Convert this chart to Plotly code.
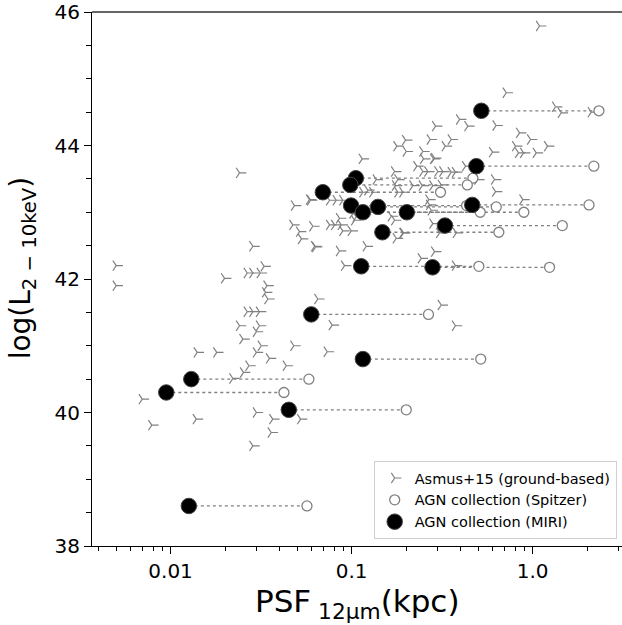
import plotly.graph_objects as go

# ---- Asmus+15 (ground-based) ----
asmus_x = [0.00501, 0.00501, 0.00698, 0.00788, 0.01387, 0.01404, 0.0180, 0.01988, 0.0221, 0.02405,
           0.02405, 0.0251, 0.0253, 0.02653, 0.0285, 0.0313, 0.0329, 0.0285, 0.0341, 0.0335,
           0.0345, 0.02653, 0.0285, 0.0310, 0.0310, 0.0298, 0.0317, 0.0298, 0.0352, 0.0271,
           0.0436, 0.0298, 0.0367, 0.0360, 0.0285, 0.0523, 0.0480, 0.0734, 0.0651, 0.0782,
           0.313, 0.375, 0.0484, 0.0586, 0.0594, 0.0474, 0.0516, 0.0529, 0.0611, 0.0625,
           0.0633, 0.0756, 0.0823, 0.0895, 0.0756, 0.0806, 0.0877, 0.0858, 0.0895, 0.0996,
           0.0858, 0.0915, 0.1206, 0.1146, 0.1039, 0.1017, 0.1657, 0.1729, 0.1766, 0.1938,
           0.2427, 0.2875, 0.2813, 0.2912, 0.178, 0.1988, 0.2005, 0.2722, 0.3293, 0.3555,
           0.2477, 0.25, 0.2838, 0.2875, 0.2295, 0.1729, 0.2477, 0.2639, 0.2998, 0.3195,
           0.375, 0.1369, 0.1803, 0.175, 0.2182, 0.2458, 0.2813, 0.313, 0.1155, 0.1311,
           0.1803, 0.1921, 0.2673, 0.2697, 0.2756, 0.1921, 0.3064, 0.3788, 0.375, 1.093,
           0.7155, 1.340, 1.441, 2.110, 0.3952, 0.4390, 0.6286, 0.8476, 0.975, 1.210,
           0.8056, 0.8368, 0.8919, 1.048, 0.6013, 0.4264, 0.6166, 0.4986, 0.6247, 0.884,
           0.1230, 0.1062, 0.3555]
asmus_y = [42.20, 41.90, 40.20, 39.81, 39.90, 40.90, 40.90, 42.01, 40.51, 43.59,
           41.30, 41.10, 40.60, 42.09, 42.09, 42.09, 42.19, 42.49, 41.90, 41.80,
           41.70, 41.51, 41.51, 41.51, 41.30, 41.21, 41.00, 40.90, 40.81, 40.70,
           40.70, 40.00, 39.90, 39.70, 39.50, 39.90, 41.00, 40.91, 41.70, 41.31,
           41.61, 41.30, 43.10, 43.19, 43.18, 42.81, 42.71, 42.60, 42.79, 42.49,
           42.48, 43.18, 43.18, 43.18, 42.81, 42.81, 42.81, 42.91, 42.72, 42.72,
           42.42, 42.20, 42.49, 43.80, 42.88, 42.98, 42.94, 42.88, 42.61, 42.69,
           42.31, 42.41, 42.83, 44.29, 43.99, 44.08, 43.91, 44.09, 43.99, 44.09,
           43.91, 43.80, 43.80, 43.81, 43.69, 43.61, 43.61, 43.61, 43.61, 43.61,
           43.60, 43.49, 43.49, 43.40, 43.40, 43.40, 43.40, 43.41, 43.30, 43.30,
           43.30, 43.30, 43.19, 43.11, 43.03, 42.69, 42.69, 42.69, 42.20, 45.79,
           44.79, 44.58, 44.49, 44.50, 44.39, 44.29, 44.30, 44.19, 44.09, 43.99,
           43.99, 43.89, 43.89, 43.89, 43.90, 43.69, 43.49, 43.49, 43.31, 43.19,
           43.33, 42.93, 43.60]

# ---- AGN collection: MIRI and Spitzer (paired, same luminosity) ----
miri_x = [0.521, 0.489, 0.1056, 0.0984, 0.0694, 0.0994, 0.140, 0.464, 0.1155, 0.202,
          0.148, 0.328, 0.113, 0.280, 0.0599, 0.1155, 0.01302, 0.00947, 0.0450, 0.01262]
spitzer_x = [2.325, 2.18, 0.468, 0.436, 0.310, 0.432, 0.630, 2.05, 0.514, 0.895,
             0.651, 1.459, 0.505, 1.241, 0.266, 0.517, 0.0581, 0.0423, 0.2005, 0.0567]
agn_y = [44.52, 43.69, 43.51, 43.41, 43.30, 43.10, 43.08, 43.11, 43.00, 43.00,
         42.70, 42.80, 42.19, 42.175, 41.47, 40.80, 40.50, 40.30, 40.04, 38.60]

x_tickvals = [0.01, 0.1, 1.0]
x_ticktext = ["0.01", "0.1", "1.0"]
x_minor = [0.004, 0.005, 0.006, 0.007, 0.008, 0.009,
           0.02, 0.03, 0.04, 0.05, 0.06, 0.07, 0.08, 0.09,
           0.2, 0.3, 0.4, 0.5, 0.6, 0.7, 0.8, 0.9, 2, 3]
y_tickvals = [38, 40, 42, 44, 46]

GRAY = "#808080"
FONT = "DejaVu Sans"

fig = go.Figure()

# dotted connectors
lx, ly = [], []
for a, b, y in zip(miri_x, spitzer_x, agn_y):
    lx += [a, b, None]
    ly += [y, y, None]
fig.add_trace(go.Scatter(x=lx, y=ly, mode="lines", showlegend=False, hoverinfo="skip",
                         line=dict(color=GRAY, width=1.3, dash="dot")))

fig.add_trace(go.Scatter(x=asmus_x, y=asmus_y, mode="markers", name="Asmus+15 (ground-based)",
                         marker=dict(symbol="y-right", size=8.5, color=GRAY,
                                     line=dict(color=GRAY, width=1.2))))
fig.add_trace(go.Scatter(x=spitzer_x, y=agn_y, mode="markers", name="AGN collection (Spitzer)",
                         marker=dict(symbol="circle", size=10, color="white",
                                     line=dict(color=GRAY, width=1.3))))
fig.add_trace(go.Scatter(x=miri_x, y=agn_y, mode="markers", name="AGN collection (MIRI)",
                         marker=dict(symbol="circle", size=15.5, color="black",
                                     line=dict(color="#444444", width=1))))

fig.update_layout(
    width=622, height=625,
    margin=dict(l=92, r=0, t=12, b=79, autoexpand=False),
    paper_bgcolor="white", plot_bgcolor="white",
    font=dict(family=FONT, color="black"),
    showlegend=True,
    legend=dict(x=0.99, y=0.013, xanchor="right", yanchor="bottom",
                bgcolor="white", bordercolor="#d0d0d0", borderwidth=1,
                font=dict(size=14.5, family=FONT), tracegroupgap=0),
    xaxis=dict(type="log", range=[-2.434, 0.494], automargin=False,
               tickvals=x_tickvals, ticktext=x_ticktext,
               ticks="outside", ticklen=7, tickwidth=1.2, tickcolor="black",
               tickfont=dict(size=20, family=FONT),
               minor=dict(tickvals=x_minor, ticks="outside", ticklen=4, tickwidth=1, tickcolor="black"),
               showline=True, linecolor="black", linewidth=1.2, mirror=False,
               showgrid=False, zeroline=False),
    yaxis=dict(range=[38, 46], tickvals=y_tickvals, automargin=False,
               ticks="outside", ticklen=7, tickwidth=1.2, tickcolor="black",
               tickfont=dict(size=20, family=FONT),
               minor=dict(dtick=0.5, ticks="outside", ticklen=5, tickwidth=1, tickcolor="black"),
               showline=True, linecolor="black", linewidth=1.2,
               showgrid=False, zeroline=False),
    shapes=[dict(type="line", xref="paper", yref="paper", x0=0, x1=1, y0=1, y1=1,
                 line=dict(color="#666666", width=2))],
    annotations=[
        dict(text="PSF<sub> 12μm</sub>(kpc)", xref="paper", yref="paper",
             x=0.5, y=-0.107, xanchor="center", yanchor="middle", showarrow=False,
             font=dict(size=31, family=FONT)),
        dict(text="log(L<sub>2 − 10keV</sub>)", xref="paper", yref="paper",
             x=-0.132, y=0.52, xanchor="center", yanchor="middle", showarrow=False,
             textangle=-90, font=dict(size=28, family=FONT)),
    ],
)

fig.write_html("out.html", config={"displayModeBar": False},
               post_script="document.body.style.margin='0px';document.body.style.padding='0px';")
